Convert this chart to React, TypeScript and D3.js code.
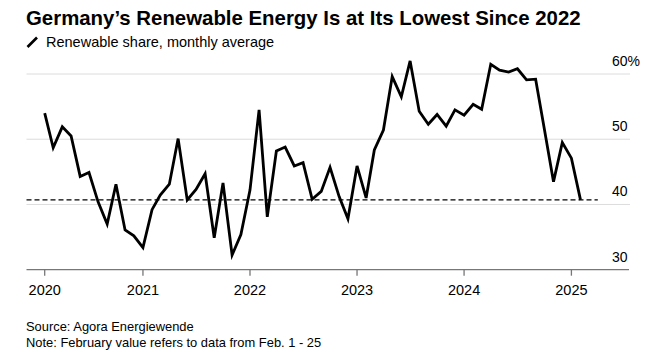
// App.tsx
// Germany renewable share, monthly average (line chart with D3 scales)
import React from "react";
import * as d3 from "d3";

// monthly renewable share in %, Feb 2020 – Feb 2025
const shareValues: number[] = [
  // 2020 (Feb–Dec)
  54.0, 48.7, 51.9, 50.5, 44.3, 44.9, 40.4, 37.0, 43.1, 36.1, 35.2,
  // 2021
  33.4, 39.2, 41.45, 43.1, 50.1, 40.7, 42.3, 44.7, 34.9, 43.3, 32.25, 35.4,
  // 2022
  42.2, 54.5, 38.1, 48.2, 48.8, 45.9, 46.4, 40.8, 42.0, 45.7, 41.2, 37.8,
  // 2023
  45.9, 41.0, 48.35, 51.4, 59.6, 56.5, 62.0, 54.3, 52.3, 53.8, 52.0, 54.5,
  // 2024
  53.7, 55.35, 54.6, 61.5, 60.6, 60.3, 60.8, 59.1, 59.2, 51.5, 43.5, 49.5,
  // 2025
  47.1, 40.7,
];
const firstMonth = new Date(2020, 1, 1);
const months: Date[] = shareValues.map((_, i) => d3.timeMonth.offset(firstMonth, i));

const yTicks = [30, 40, 50, 60];
const xTickYears = [2020, 2021, 2022, 2023, 2024, 2025];

const title = "Germany’s Renewable Energy Is at Its Lowest Since 2022";
const subtitle = "Renewable share, monthly average";
const source = "Source: Agora Energiewende";
const note = "Note: February value refers to data from Feb. 1 - 25";

const W = 668, H = 361;
const plotLeft = 26.5, plotRight = 630;
const font = "'Liberation Sans', Arial, Helvetica, sans-serif";

export default function App() {
  const x = d3.scaleTime()
    .domain([months[0], months[months.length - 1]])
    .range([44.7, 580.5]);
  const y = d3.scaleLinear().domain([30, 60]).range([269.7, 74]);

  // first tick sits at the start of the data, the rest on Jan 1
  const xTicks = xTickYears.map((yr, i) => (i === 0 ? months[0] : new Date(yr, 0, 1)));

  const line = d3.line<number>()
    .x((_, i) => x(months[i]))
    .y((d) => y(d));

  const latest = shareValues[shareValues.length - 1];
  const dashEnd = x(d3.timeMonth.offset(months[months.length - 1], 2));

  return (
    <svg width={W} height={H} style={{ position: "absolute", left: 0, top: 0, background: "#fff" }}>
      <text x={26} y={25} fontFamily={font} fontWeight={700} fontSize={20.4} fill="#000">
        {title}
      </text>
      <line x1={27.5} y1={47} x2={37} y2={37.5} stroke="#000" strokeWidth={2.6} />
      <text x={46} y={47} fontFamily={font} fontSize={14.5} fill="#000">
        {subtitle}
      </text>

      {/* grid */}
      {yTicks.filter((t) => t > 30).map((t) => (
        <line key={t} x1={plotLeft} x2={plotRight} y1={y(t)} y2={y(t)} stroke="#dcdcdc" strokeWidth={1} />
      ))}
      {yTicks.map((t) => (
        <text key={t} x={612} y={y(t) - 8} fontFamily={font} fontSize={14} fill="#000">
          {t === 60 ? `${t}%` : t}
        </text>
      ))}

      {/* reference line at latest value */}
      <line
        x1={plotLeft}
        x2={dashEnd}
        y1={y(latest)}
        y2={y(latest)}
        stroke="#000"
        strokeWidth={1.4}
        strokeDasharray="5,3"
      />

      <path d={line(shareValues) || ""} fill="none" stroke="#000" strokeWidth={2.8} strokeLinejoin="miter" />

      {/* x axis */}
      <line x1={plotLeft} x2={plotRight - 1} y1={y(30)} y2={y(30)} stroke="#777" strokeWidth={1.3} />
      {xTicks.map((d, i) => (
        <g key={i} transform={`translate(${x(d)},0)`}>
          <line y1={y(30)} y2={y(30) + 6} stroke="#777" strokeWidth={1.3} />
          <text y={295} textAnchor="middle" fontFamily={font} fontSize={14.5} fill="#000">
            {xTickYears[i]}
          </text>
        </g>
      ))}

      <text x={26} y={331} fontFamily={font} fontSize={12.9} fill="#000">{source}</text>
      <text x={26} y={347} fontFamily={font} fontSize={12.9} fill="#000">{note}</text>
    </svg>
  );
}
